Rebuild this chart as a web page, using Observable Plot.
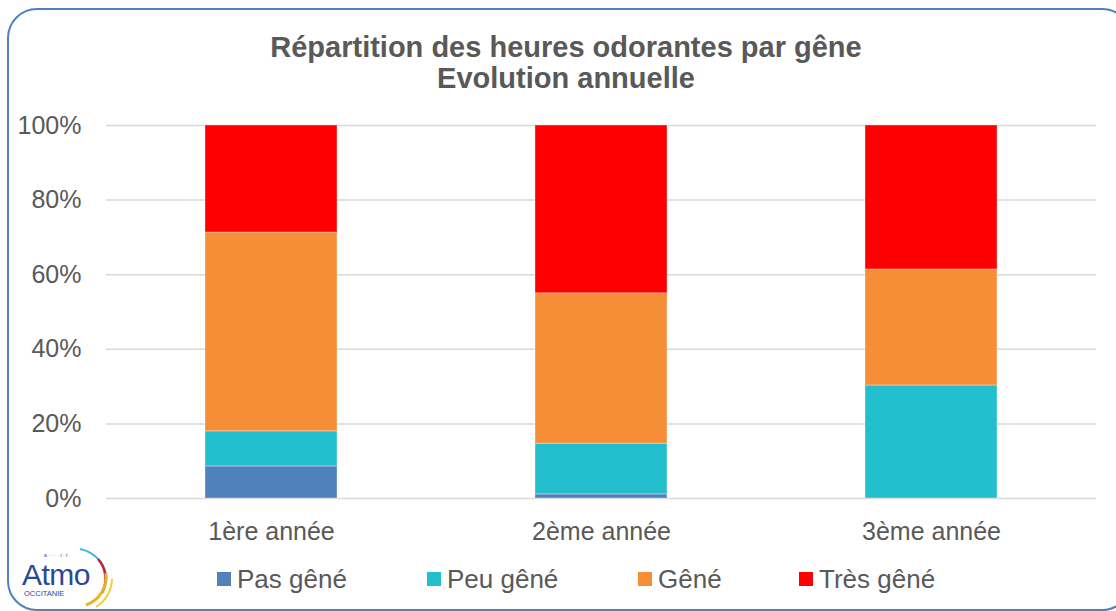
<!DOCTYPE html>
<html>
<head>
<meta charset="utf-8">
<script src="https://cdn.jsdelivr.net/npm/d3@7"></script>
<script src="https://cdn.jsdelivr.net/npm/@observablehq/plot@0.6"></script>
<style>
  html, body { margin: 0; padding: 0; background: #fff; overflow: hidden; }
  #wrap { position: relative; width: 1116px; height: 611px; overflow: hidden; font-family: "Liberation Sans", Arial, sans-serif; color: #595959; }
  #frame { position: absolute; left: 7px; top: 8px; width: 1125px; height: 603px; box-sizing: border-box; border: 2.5px solid #4f81bd; border-radius: 30px; }
  #title { position: absolute; left: 0; top: 32px; width: 1132px; text-align: center; font-weight: bold; font-size: 29px; line-height: 31px; color: #595959; }
  #chart { position: absolute; left: 0; top: 0; }
  .leg { position: absolute; top: 565px; font-size: 26px; line-height: 28px; color: #595959; white-space: nowrap; }
  .sw { position: absolute; width: 14px; height: 14px; top: 572px; }
  #logo { position: absolute; left: 18px; top: 543px; }
</style>
</head>
<body>
<div id="wrap">
  <div id="frame"></div>
  <div id="title">Répartition des heures odorantes par gêne<br>Evolution annuelle</div>
  <div id="chart"></div>
  <div id="legend"></div>
  <svg id="logo" width="100" height="66" viewBox="0 0 100 66">
    <path d="M62,6 A34,30 0 0 1 88,36" fill="none" stroke="#3fb8d6" stroke-width="2"/>
    <path d="M80,16 A30,30 0 0 1 84,50" fill="none" stroke="#c0243a" stroke-width="2.5"/>
    <path d="M88,30 A30,30 0 0 1 68,62" fill="none" stroke="#e9b21f" stroke-width="3"/>
    <path d="M94,36 A34,34 0 0 1 78,64" fill="none" stroke="#f0cf3a" stroke-width="2"/>
    <text x="4" y="42" font-family="Liberation Sans, Arial" font-size="30" fill="#2c4895" letter-spacing="-0.5">Atmo</text>
    <text x="6" y="53" font-family="Liberation Sans, Arial" font-size="7.5" fill="#2c4895">OCCITANIE</text>
    <text x="26" y="14" font-family="Liberation Sans, Arial" font-size="5" fill="#2c4895">a · · · · i · r</text>
  </svg>
</div>
<script>
const categories = ["1ère année", "2ème année", "3ème année"];
const seriesNames = ["Pas gêné", "Peu gêné", "Gêné", "Très gêné"];
const seriesColors = ["#4f81bd", "#23bfcf", "#f68e38", "#ff0000"];
const pasGene = [8.6, 1.1, 0];
const peuGene = [9.4, 13.6, 30.3];
const gene = [53.3, 40.3, 31.1];
const tresGene = [28.7, 45.0, 38.6];
const yTicks = [0, 20, 40, 60, 80, 100];

const seriesValues = [pasGene, peuGene, gene, tresGene];
const table = [];
seriesNames.forEach((s, i) => {
  categories.forEach((c, j) => {
    table.push({category: c, series: s, value: seriesValues[i][j]});
  });
});

const chart = Plot.plot({
  width: 1116,
  height: 560,
  marginTop: 125,
  marginBottom: 62,
  marginLeft: 106,
  marginRight: 20,
  style: {fontFamily: "Liberation Sans, Arial, sans-serif", fontSize: "25px", color: "#595959", background: "transparent", overflow: "visible"},
  x: {domain: categories, paddingInner: 0.6, paddingOuter: 0.3, label: null},
  y: {domain: [0, 100], label: null},
  color: {domain: seriesNames, range: seriesColors},
  marks: [
    Plot.gridY(yTicks, {stroke: "#d9d9d9", strokeOpacity: 1, strokeWidth: 1.5}),
    Plot.axisY(yTicks, {tickSize: 0, tickPadding: 25, tickFormat: d => d + "%", label: null, fontSize: 25}),
    Plot.axisX({tickSize: 0, tickPadding: 24, label: null, fontSize: 25}),
    Plot.barY(table, Plot.stackY({order: seriesNames}, {
      x: "category", y: "value", fill: "series",
      stroke: "white", strokeOpacity: 0.35, strokeWidth: 1
    }))
  ]
});
document.getElementById("chart").appendChild(chart);

const legX = [217, 427, 638, 799];
const legend = document.getElementById("legend");
seriesNames.forEach((s, i) => {
  const sw = document.createElement("div");
  sw.className = "sw";
  sw.style.left = legX[i] + "px";
  sw.style.background = seriesColors[i];
  legend.appendChild(sw);
  const t = document.createElement("div");
  t.className = "leg";
  t.style.left = (legX[i] + 20) + "px";
  t.textContent = s;
  legend.appendChild(t);
});
</script>
</body>
</html>
